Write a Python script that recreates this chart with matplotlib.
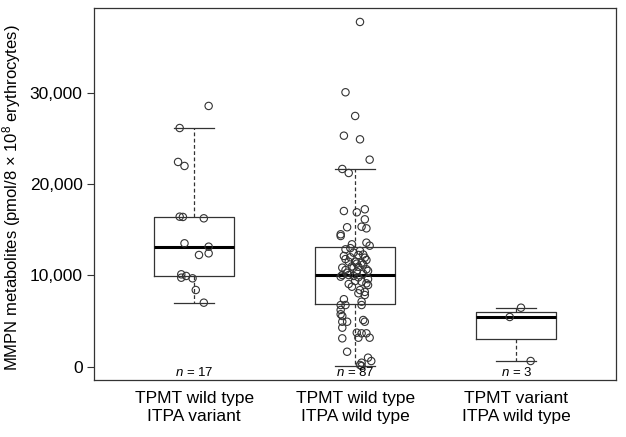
import matplotlib
matplotlib.use("Agg")
import matplotlib.pyplot as plt
from matplotlib.ticker import FuncFormatter

plt.rcParams['font.family'] = ['Liberation Sans', 'DejaVu Sans']
plt.rcParams['mathtext.fontset'] = 'custom'
plt.rcParams['mathtext.rm'] = 'Liberation Sans'
plt.rcParams['mathtext.it'] = 'Liberation Sans:italic'

groups = ["TPMT wild type\nITPA variant", "TPMT wild type\nITPA wild type", "TPMT variant\nITPA wild type"]
n_labels = ["17", "87", "3"]

# box statistics: q1, median, q3, lower whisker, upper whisker
q1 = [9900, 6880, 3040]
med = [13160, 10090, 5450]
q3 = [16450, 13160, 5960]
whislo = [6980, 80, 625]
whishi = [26200, 21680, 6470]

# individual patients (value, horizontal jitter)
vals1 = [28590, 26170, 22450, 22010, 16450, 16420, 16270, 13530, 13160, 12430,
         12250, 10130, 9760, 9950, 9690, 8410, 7020]
jit1 = [0.09, -0.09, -0.10, -0.06, -0.09, -0.07, 0.06, -0.06, 0.09, 0.09,
        0.03, -0.08, -0.08, -0.05, -0.01, 0.01, 0.06]

vals2 = [37800, 30090, 27490, 25330, 24930, 22700, 21680, 21240, 17070, 16930,
         17260, 16160, 15290, 15350, 15170, 14520, 14330, 13420, 13600, 13270,
         12870, 12500, 12140, 12250, 11950, 11700, 11510, 11510, 11400, 10860,
         10860, 10960, 10680, 10600, 10420, 10050, 9870, 10050, 9950, 9070,
         9320, 9140, 8770, 8950, 8400, 8050, 7860, 7130, 6760, 6760,
         6760, 6220, 5750, 5560, 4930, 5120, 4930, 4930, 4280, 3730,
         3660, 3660, 3180, 3180, 3110, 1640, 990, 620, 440, 190,
         80, 12000, 11200, 10300, 9600, 12700, 11800, 10200, 9400, 11000,
         10500, 12300, 9800, 7400, 8200, 13000, 11300]
jit2 = [0.03, -0.06, 0.00, -0.07, 0.03, 0.09, -0.08, -0.04, -0.07, 0.01,
        0.06, 0.06, -0.05, 0.04, 0.07, -0.09, -0.09, -0.02, 0.07, 0.09,
        -0.06, -0.01, -0.07, 0.02, 0.06, 0.07, -0.04, 0.00, 0.04, -0.08,
        -0.01, 0.02, 0.07, -0.06, 0.01, -0.08, -0.09, -0.04, -0.01, -0.04,
        0.04, 0.07, -0.02, 0.08, 0.03, 0.02, 0.06, 0.04, -0.09, -0.06,
        0.04, -0.09, -0.09, -0.08, -0.05, 0.05, 0.06, -0.08, -0.08, 0.01,
        0.04, 0.07, 0.02, 0.09, -0.08, -0.05, 0.08, 0.10, 0.04, 0.03,
        0.04, -0.03, 0.05, -0.05, 0.08, 0.03, -0.06, 0.05, 0.00, -0.02,
        0.08, 0.05, 0.02, -0.07, 0.06, -0.03, 0.01]

vals3 = [6470, 5450, 625]
jit3 = [0.03, -0.04, 0.09]

fig = plt.figure(figsize=(6.26, 4.37), dpi=100)
ax = fig.add_axes([0.1507, 0.1304, 0.8333, 0.8513])

stats = []
for i in range(3):
    stats.append({"q1": q1[i], "med": med[i], "q3": q3[i],
                  "whislo": whislo[i], "whishi": whishi[i], "fliers": []})

ax.bxp(stats, positions=[1, 2, 3], widths=0.5, capwidths=0.25, showfliers=False,
       boxprops=dict(color="#333333", linewidth=0.9),
       medianprops=dict(color="black", linewidth=2.2),
       whiskerprops=dict(color="#333333", linewidth=0.9, linestyle=(0, (3, 2))),
       capprops=dict(color="#333333", linewidth=0.9))

for pos, v, j in [(1, vals1, jit1), (2, vals2, jit2), (3, vals3, jit3)]:
    ax.scatter([pos + d for d in j], v, s=28, facecolors="none",
               edgecolors="#333333", linewidths=0.8, zorder=3)

for i, n in enumerate(n_labels):
    ax.text(i + 1, -650, "$\\it{n}$ = " + n, ha="center", va="center", fontsize=9.5)

ax.set_xlim(0.38, 3.62)
ax.set_ylim(-1460, 39330)
ax.set_xticks([1, 2, 3])
ax.set_xticklabels(groups, fontsize=12.5, linespacing=1.2)
ax.tick_params(axis="x", length=0, pad=8)
ax.set_yticks([0, 10000, 20000, 30000])
ax.yaxis.set_major_formatter(FuncFormatter(lambda v, p: f"{int(v):,}"))
ax.tick_params(axis="y", labelsize=12.5, length=5, color="#333333")
ax.set_ylabel("MMPN metabolites (pmol/8 \u00d7 10$^8$ erythrocytes)", fontsize=12)
ax.yaxis.set_label_coords(-0.136, 0.49)
for s in ax.spines.values():
    s.set_color("#333333")
    s.set_linewidth(0.9)

fig.savefig("out.png", dpi=100)
